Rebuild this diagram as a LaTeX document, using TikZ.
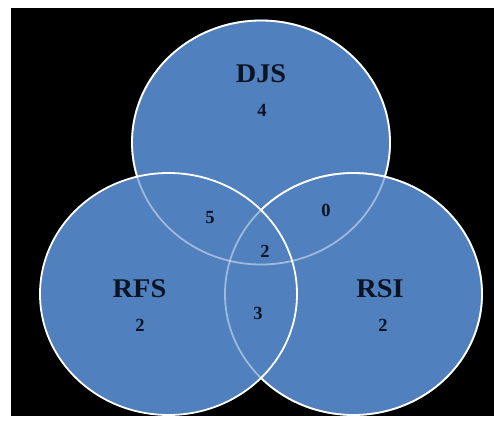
\documentclass[tikz,border=0pt]{standalone}
\usepackage{fontspec}
\setmainfont{Liberation Serif}
\usepackage{tikz}

\definecolor{vennblue}{RGB}{80,128,189}
\definecolor{venntext}{RGB}{12,20,36}

\begin{document}
\begin{tikzpicture}
  [x=1pt,y=-1pt,
   set/.style={fill=vennblue,draw=white,line width=1.8pt},
   faint/.style={draw=white,draw opacity=.45,line width=1.8pt},
   setname/.style={text=venntext,font=\fontsize{27}{27}\selectfont\bfseries,inner sep=0pt,xscale=1.05},
   count/.style={text=venntext,font=\fontsize{18.5}{18.5}\selectfont\bfseries,inner sep=0pt}]
  \fill[white] (0,0) rectangle (494,425);
  \useasboundingbox (0,0) rectangle (494,425);
  \fill[black] (11,8) rectangle (494,416);

  \coordinate (cDJS) at (261,142.5);
  \coordinate (cRSI) at (353.5,294);
  \coordinate (cRFS) at (168.5,294);

  \draw[set] (cDJS) ellipse [x radius=129pt, y radius=122pt];
  \draw[set] (cRSI) ellipse [x radius=128.5pt, y radius=121pt];
  \draw[set] (cRFS) ellipse [x radius=128.5pt, y radius=121pt];
  % arcs showing through
  \draw[faint] (cDJS) ellipse [x radius=129pt, y radius=122pt];
  \draw[faint] (cRSI) ellipse [x radius=128.5pt, y radius=121pt];

  \node[setname] (djs) at (261,73.5)  {DJS};
  \node[setname] (rfs) at (139.5,288.5) {RFS};
  \node[setname] (rsi) at (380,288.5) {RSI};

  \node[count] (n1) at (262,110.5) {4};
  \node[count] (n2) at (140,325)   {2};
  \node[count] (n3) at (383,325)   {2};
  \node[count] (n4) at (210,218)   {5};
  \node[count] (n5) at (326,210)   {0};
  \node[count] (n6) at (265,251)   {2};
  \node[count] (n7) at (258,313)   {3};
\end{tikzpicture}
\end{document}
